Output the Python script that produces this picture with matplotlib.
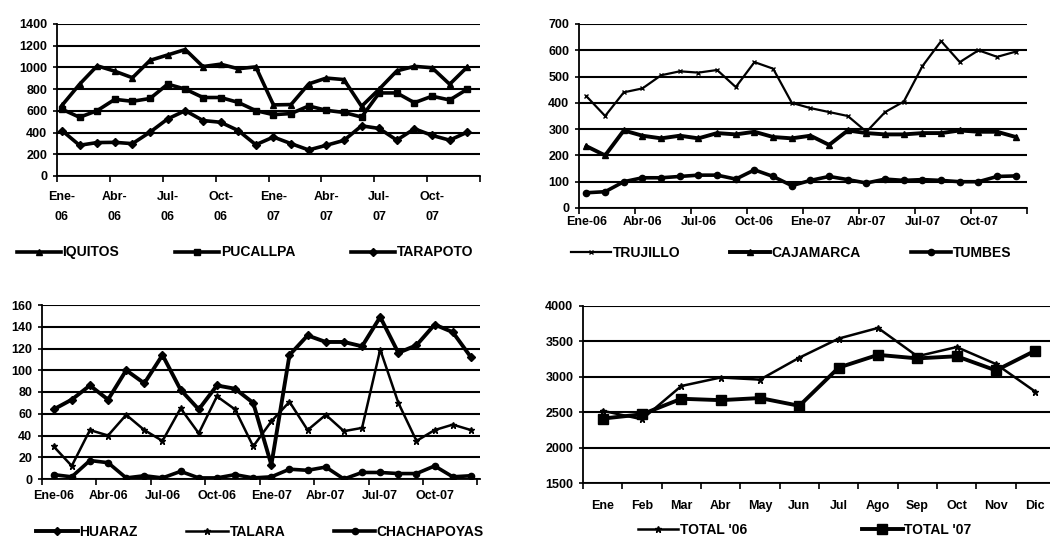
import matplotlib
matplotlib.use("Agg")
import matplotlib.pyplot as plt
import numpy as np

plt.rcParams['font.family'] = ['Liberation Sans', 'DejaVu Sans']
plt.rcParams['font.weight'] = 'bold'

# ---------------- data ----------------
months24 = list(range(24))
labels_a = ["Ene-\n06", "Abr-\n06", "Jul-\n06", "Oct-\n06", "Ene-\n07", "Abr-\n07", "Jul-\n07", "Oct-\n07"]
labels_b = ["Ene-06", "Abr-06", "Jul-06", "Oct-06", "Ene-07", "Abr-07", "Jul-07", "Oct-07"]
months12 = ["Ene", "Feb", "Mar", "Abr", "May", "Jun", "Jul", "Ago", "Sep", "Oct", "Nov", "Dic"]

iquitos = [650, 845, 1015, 965, 905, 1065, 1115, 1165, 1008, 1030, 988, 1005,
           655, 658, 848, 902, 888, 642, 800, 968, 1010, 997, 845, 1005]
pucallpa = [615, 541, 602, 706, 688, 714, 846, 800, 723, 723, 678, 602,
            565, 575, 645, 605, 585, 543, 765, 765, 675, 735, 700, 800]
tarapoto = [419, 283, 308, 310, 298, 404, 526, 602, 511, 495, 419, 288,
            359, 298, 240, 283, 328, 462, 438, 330, 435, 374, 330, 404]

trujillo = [425, 350, 440, 455, 505, 520, 515, 525, 460, 555, 530, 400,
            380, 365, 350, 290, 365, 405, 540, 635, 555, 600, 575, 595]
cajamarca = [235, 200, 295, 275, 265, 275, 265, 285, 280, 290, 270, 265,
             275, 240, 295, 285, 280, 280, 285, 285, 295, 290, 290, 270]
tumbes = [58, 62, 100, 115, 115, 120, 125, 125, 110, 145, 120, 85,
          105, 120, 108, 95, 110, 105, 108, 105, 100, 100, 120, 122]

huaraz = [64, 73, 86, 73, 100, 88, 114, 82, 64, 86, 83, 70,
          13, 114, 132, 126, 126, 122, 149, 116, 123, 142, 135, 112]
talara = [30, 12, 45, 40, 59, 45, 35, 65, 42, 76, 64, 30,
          53, 71, 45, 59, 44, 47, 119, 70, 35, 45, 50, 45]
chachapoyas = [4, 2, 17, 15, 1, 3, 1, 7, 1, 1, 4, 1,
               2, 9, 8, 11, 0, 6, 6, 5, 5, 12, 2, 3]

total06 = [2520, 2400, 2870, 2990, 2960, 3270, 3540, 3690, 3290, 3420, 3180, 2790]
total07 = [2410, 2470, 2690, 2670, 2700, 2590, 3130, 3310, 3260, 3290, 3090, 3370]

# ---------------- figure ----------------
W, H = 1050, 541
fig = plt.figure(figsize=(W / 100, H / 100), dpi=100)
fig.patch.set_facecolor('white')


def ax_at(l, t, r, b):
    return fig.add_axes([l / W, 1 - b / H, (r - l) / W, (b - t) / H])


TICK_FS = 9
LEG_FS = 10


def style(ax, ymin, ymax, ystep):
    ax.set_ylim(ymin, ymax)
    ax.set_yticks(np.arange(ymin, ymax + 1, ystep))
    ax.grid(axis='y', color='black', linewidth=1.5)
    ax.set_axisbelow(True)
    for s in ['top', 'right']:
        ax.spines[s].set_visible(False)
    for s in ['left', 'bottom']:
        ax.spines[s].set_linewidth(1.3)
    ax.tick_params(axis='y', length=3, width=1.2, pad=4, labelsize=TICK_FS)
    for lab in ax.get_yticklabels():
        lab.set_fontweight('bold')


def xmonths(ax, positions, labels, offset, pad):
    ax.set_xticks(positions)
    ax.set_xticklabels(labels, fontsize=TICK_FS, fontweight='bold', linespacing=1.9)
    ax.tick_params(axis='x', which='major', length=0, pad=pad)
    ax.set_xticks([p + offset for p in positions] + [positions[-1] + 3 + offset], minor=True)
    ax.tick_params(axis='x', which='minor', length=4, width=1.2, direction='out')


def legend(ax, x, y, spacing, handlelength=3.2):
    leg = ax.legend(loc='upper center', bbox_to_anchor=(x, y), ncol=3, frameon=False,
                    handlelength=handlelength, handletextpad=0.1, columnspacing=spacing,
                    prop={'size': LEG_FS, 'weight': 'bold'}, borderaxespad=0)
    return leg


# Panel 1
ax1 = ax_at(57, 24, 480, 176)
ax1.plot(months24, iquitos, color='black', lw=2.6, marker='^', ms=5, label='IQUITOS')
ax1.plot(months24, pucallpa, color='black', lw=2.6, marker='s', ms=4.5, label='PUCALLPA')
ax1.plot(months24, tarapoto, color='black', lw=2.6, marker='D', ms=4, label='TARAPOTO')
ax1.set_xlim(-0.25, 23.3)
style(ax1, 0, 1400, 200)
xmonths(ax1, list(range(0, 24, 3)), labels_a, -0.28, 11)
legend(ax1, 0.444, -0.42, 4.0)

# Panel 2
ax2 = ax_at(579, 24, 1027, 208)
ax2.plot(months24, trujillo, color='black', lw=1.6, marker='x', ms=3.5, mew=1, label='TRUJILLO')
ax2.plot(months24, cajamarca, color='black', lw=2.8, marker='^', ms=5, label='CAJAMARCA')
ax2.plot(months24, tumbes, color='black', lw=2.6, marker='o', ms=4.5, label='TUMBES')
ax2.set_xlim(-0.4, 23.57)
style(ax2, 0, 700, 100)
xmonths(ax2, list(range(0, 24, 3)), labels_b, -0.4, 6)
legend(ax2, 0.473, -0.175, 3.6, handlelength=2.9)

# Panel 3
ax3 = ax_at(42, 305, 480, 479)
ax3.plot(months24, huaraz, color='black', lw=2.8, marker='D', ms=4, label='HUARAZ')
ax3.plot(months24, talara, color='black', lw=1.8, marker='*', ms=5, label='TALARA')
ax3.plot(months24, chachapoyas, color='black', lw=2.6, marker='o', ms=4.5, label='CHACHAPOYAS')
ax3.set_xlim(-0.64, 23.5)
style(ax3, 0, 160, 20)
xmonths(ax3, list(range(0, 24, 3)), labels_b, -0.64, 8)
legend(ax3, 0.498, -0.23, 3.5, handlelength=3.0)

# Panel 4
ax4 = ax_at(583, 306, 1055, 483)
ax4.plot(range(12), total06, color='black', lw=1.8, marker='*', ms=5, label="TOTAL '06")
ax4.plot(range(12), total07, color='black', lw=2.8, marker='s', ms=7, label="TOTAL '07")
ax4.set_xlim(-0.48, 11.5)
style(ax4, 1500, 4000, 500)
ax4.set_xticks(range(12))
ax4.set_xticklabels(months12, fontsize=TICK_FS, fontweight='bold')
ax4.tick_params(axis='x', which='major', length=0, pad=12)
ax4.set_xticks([k - 0.5 for k in range(13)], minor=True)
ax4.tick_params(axis='x', which='minor', length=4, width=1.2, direction='out')
ax4.legend(loc='upper left', bbox_to_anchor=(0.105, -0.195), ncol=2, frameon=False,
           handlelength=2.9, handletextpad=0.1, columnspacing=8.3,
           prop={'size': LEG_FS, 'weight': 'bold'}, borderaxespad=0)

fig.savefig('out.png', dpi=100, facecolor='white')
